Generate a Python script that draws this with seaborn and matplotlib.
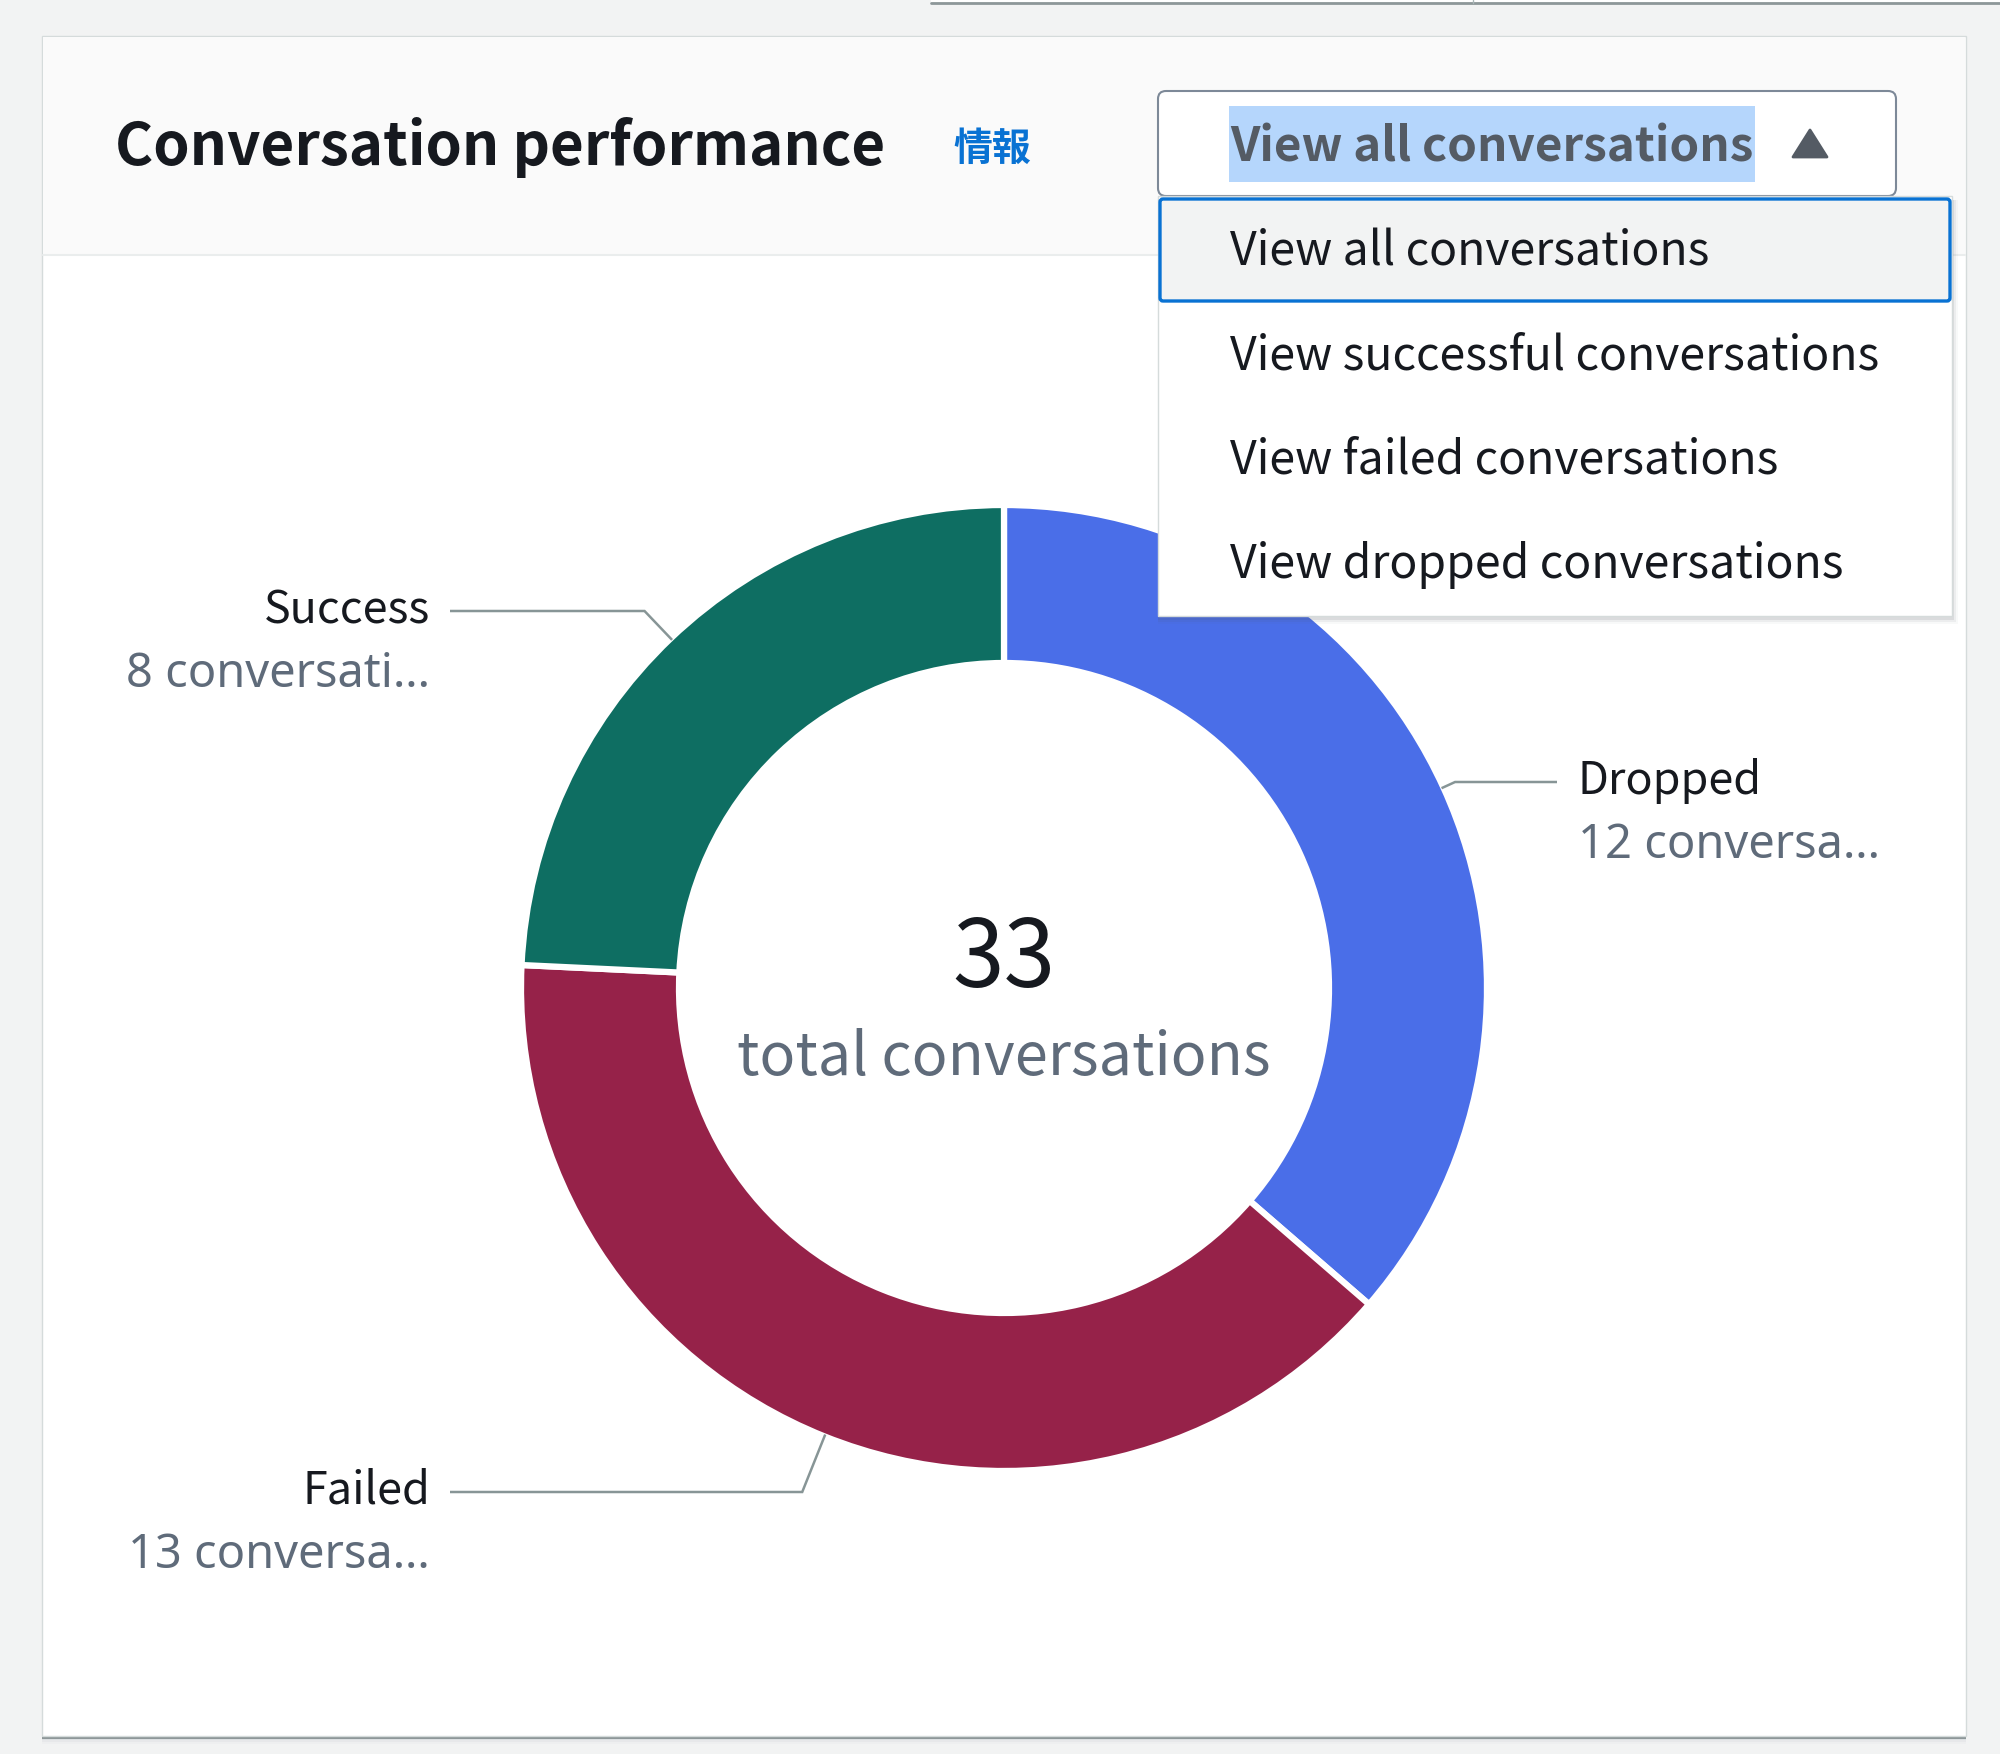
import numpy as np
import pandas as pd
import matplotlib
matplotlib.use("Agg")
import matplotlib.pyplot as plt
import seaborn as sns
from matplotlib.patches import Rectangle, FancyBboxPatch, Polygon

# ---------------- data ----------------
categories = ["Dropped", "Failed", "Success"]
counts = [12, 13, 8]
count_labels = ["12 conversa…", "13 conversa…", "8 conversati…"]
menu_items = ["View all conversations", "View successful conversations",
              "View failed conversations", "View dropped conversations"]
selected_item = "View all conversations"
title_text = "Conversation performance"
info_text = "情報"
center_label = "total conversations"
slice_colors = ["#4a6ee8", "#962249", "#0e6e62"]

total = sum(counts)
df = pd.DataFrame({"category": categories, "count": counts, "label": count_labels})

# ---------------- style ----------------
sns.set_theme(style="white")
plt.rcParams["font.family"] = ["Noto Sans CJK JP", "Noto Sans", "DejaVu Sans"]
LATIN = ["Noto Sans", "DejaVu Sans"]

W, H = 2000, 1754
fig = plt.figure(figsize=(W / 100, H / 100), dpi=100, facecolor="#f2f3f3")
ax = fig.add_axes([0, 0, 1, 1])
ax.set_xlim(0, W)
ax.set_ylim(0, H)
ax.axis("off")
renderer = fig.canvas.get_renderer()


def Y(y):
    return H - y


def fit(x, y, s, width, ha="left", va="baseline", **kw):
    t = ax.text(x, Y(y), s, fontsize=20, ha=ha, va=va, **kw)
    w = t.get_window_extent(renderer).width
    t.set_fontsize(20 * width / w)
    return t


def rect(x0, y0, x1, y1, **kw):
    ax.add_patch(Rectangle((x0, Y(y1)), x1 - x0, y1 - y0, **kw))


# ---------------- page fragments ----------------
rect(931, 0, W, 2, facecolor="white", edgecolor="none", zorder=0)
ax.plot([931, W], [Y(2.5), Y(2.5)], color="#8d9799", lw=2, zorder=0)
ax.plot([1473, 1473], [Y(0), Y(3)], color="#aab7b8", lw=1, zorder=0)

# ---------------- card ----------------
for i, a in enumerate([0.10, 0.06, 0.03]):
    rect(42, 40, 1966, 1740 + i * 2, facecolor="#7d8998", alpha=a, edgecolor="none", zorder=0.1)
rect(42, 1735, 1966, 1739, facecolor="#8d9799", edgecolor="none", zorder=0.2)
rect(42, 36, 1966, 1736, facecolor="white", edgecolor="#d5dbdb", lw=1, zorder=0.3)
rect(43, 37, 1965, 255, facecolor="#fafafa", edgecolor="none", zorder=0.4)
ax.plot([43, 1965], [Y(255), Y(255)], color="#eaeded", lw=1.5, zorder=0.5)

# header title
fit(115, 165, title_text, 771, fontweight="bold", color="#16191f", zorder=2)
ax.text(953, Y(149), info_text, fontsize=28, fontweight="bold", color="#0972d3",
        ha="left", va="center", zorder=2)

# ---------------- donut ----------------
cx, cy = 1004, 988
R, ring = 483, 158
wedges, _ = ax.pie(df["count"], colors=sns.color_palette(slice_colors), startangle=90,
                   counterclock=False, radius=R, center=(cx, Y(cy)),
                   wedgeprops=dict(width=ring, edgecolor="white", linewidth=4.5))
ax.set_xlim(0, W)
ax.set_ylim(0, H)
ax.set_aspect("auto")
ax.axis("off")

# center texts
fit(cx, 987, str(total), 103, ha="center", color="#16191f", fontweight="normal", zorder=3)
fit(cx, 1075, center_label, 534, ha="center", color="#5f6b7a", zorder=3)

# leader lines and labels
label_line_y = {"Dropped": 782, "Failed": 1492, "Success": 611}
label_side = {"Dropped": "right", "Failed": "left", "Success": "left"}
tmp = fit(0, -500, "Dropped", 184)
name_size = tmp.get_fontsize()
tmp.remove()
tmp = fit(0, -500, "12 conversa…", 302, family=LATIN)
val_size = tmp.get_fontsize()
tmp.remove()

for w, cat, lab in zip(wedges, df["category"], df["label"]):
    mid = np.deg2rad((w.theta1 + w.theta2) / 2)
    px, py = cx + (R - 2) * np.cos(mid), Y(cy) + (R - 2) * np.sin(mid)
    ly = Y(label_line_y[cat])
    s = (ly - py) / np.sin(mid)
    ex = px + s * np.cos(mid)
    if label_side[cat] == "left":
        hx, tx, ha = 450, 430, "right"
    else:
        hx, tx, ha = 1557, 1578, "left"
    ax.plot([hx, ex, px], [ly, ly, py], color="#879596", lw=1.8, zorder=2,
            solid_capstyle="butt", solid_joinstyle="miter")
    ax.text(tx, Y(label_line_y[cat] + 12), cat, fontsize=name_size, ha=ha,
            va="baseline", color="#16191f", zorder=3)
    ax.text(tx, Y(label_line_y[cat] + 76), lab, fontsize=val_size, ha=ha,
            va="baseline", color="#5f6b7a", family=LATIN, zorder=3)

# ---------------- dropdown button ----------------
ax.add_patch(FancyBboxPatch((1158, Y(196)), 738, 105,
                            boxstyle="round,pad=0,rounding_size=8",
                            facecolor="white", edgecolor="#7d8998", lw=1.5, zorder=10))
rect(1229, 106, 1755, 182, facecolor="#b5d6fc", edgecolor="none", zorder=11)
fit(1230, 161, selected_item, 524, fontweight="bold", color="#545b64", zorder=12)
ax.add_patch(Polygon([(1793, Y(157)), (1827, Y(157)), (1810, Y(130))], closed=True,
                     facecolor="#545b64", edgecolor="#545b64", lw=2,
                     joinstyle="round", zorder=12))

# ---------------- dropdown list ----------------
for i, a in enumerate([0.12, 0.07, 0.035]):
    rect(1158, 200, 1952 + 2 + i * 2, 618 + 2 + i * 2, facecolor="#545b64", alpha=a,
         edgecolor="none", zorder=10)
rect(1158, 196, 1952, 616, facecolor="white", edgecolor="#d5dbdb", lw=1, zorder=11)
ax.add_patch(FancyBboxPatch((1160, Y(301)), 790, 102,
                            boxstyle="round,pad=0,rounding_size=3",
                            facecolor="#f2f3f3", edgecolor="#0972d3", lw=2.4, zorder=12))

item_baselines = [266, 370, 474, 578]
tmp = fit(0, -500, menu_items[1], 650)
item_size = tmp.get_fontsize()
tmp.remove()
for txt, yb in zip(menu_items, item_baselines):
    ax.text(1230, Y(yb), txt, fontsize=item_size, ha="left", va="baseline",
            color="#16191f", zorder=13)

fig.savefig("out.png", dpi=100, facecolor=fig.get_facecolor())
